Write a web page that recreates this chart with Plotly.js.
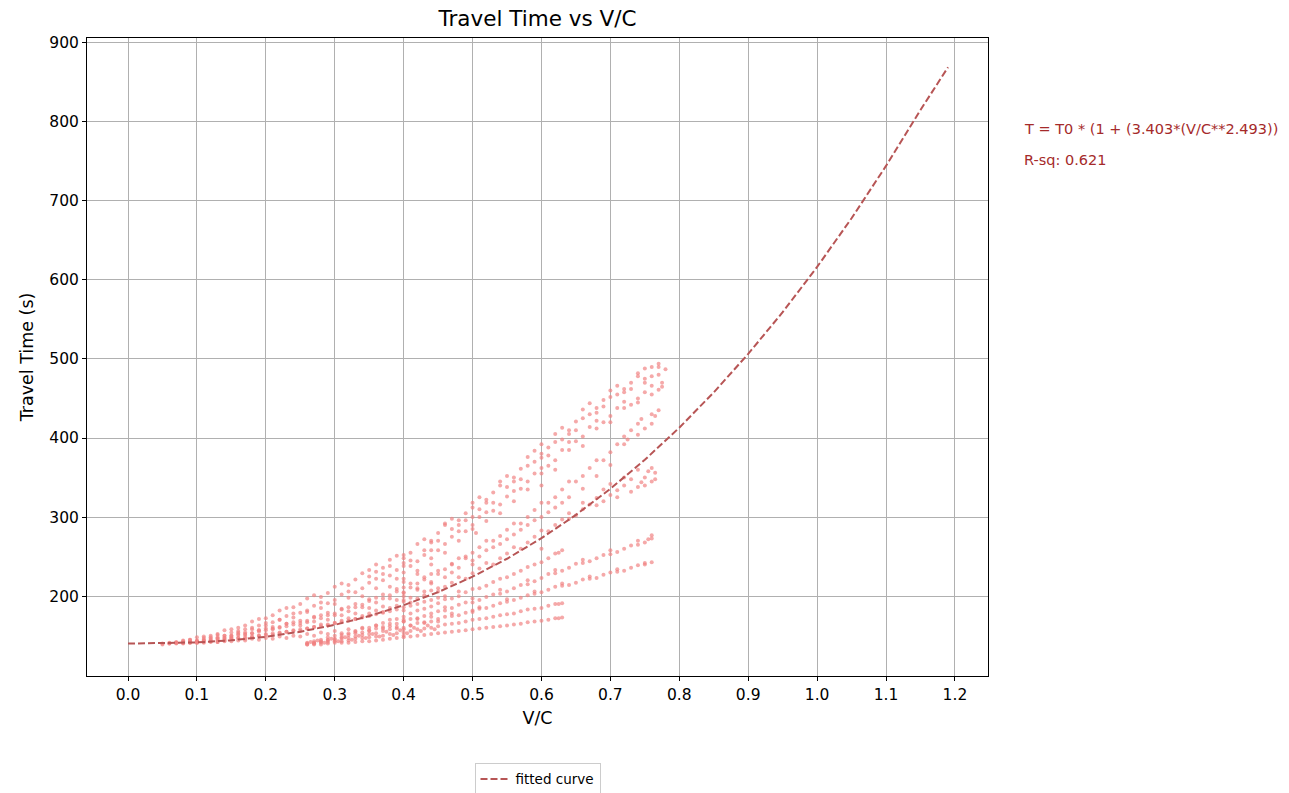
<!DOCTYPE html>
<html>
<head>
<meta charset="utf-8">
<script src="https://cdn.plot.ly/plotly-3.0.1.min.js"></script>
<style>html,body{margin:0;padding:0;background:#fff;}#chart{width:1289px;height:793px;}</style>
</head>
<body>
<div id="chart"></div>
<script>
// ---- observed points (V/C, travel time s), grouped by visible strands ----
const aVC = [0.05,0.07,0.09,0.11,0.13,0.15,0.17,0.19,0.21,0.23,0.25,0.27,0.29,0.31,0.33,0.35,0.37,0.39,0.41,0.43,0.45,0.47,0.49,0.51,0.53,0.55,0.57,0.59,0.61,0.63,0.65,0.67,0.69,0.71,0.73,0.75,0.76,0.77,0.78];
const aTT = [140,142,145,149,152,158,163,171,176,185,190,201,204,216,221,233,236,251,255,272,280,298,305,325,331,352,361,384,388,413,421,444,448,466,470,488,478,494,487];
const abVC = [0.06,0.08,0.10,0.12,0.14,0.16,0.18,0.20,0.22,0.24,0.26,0.28,0.30,0.32,0.34,0.36,0.38,0.40,0.42,0.44,0.46,0.48,0.50,0.52,0.54,0.56,0.58,0.60,0.62,0.64,0.66,0.68,0.70,0.72,0.74,0.76,0.775];
const abTT = [141,144,148,150,157,160,168,172,182,186,197,199,212,214,229,231,246,248,266,270,290,296,318,322,345,350,376,380,405,410,436,438,460,462,482,490,470];

const a2VC = [0.06,0.08,0.10,0.12,0.14,0.16,0.18,0.20,0.22,0.24,0.26,0.28,0.30,0.32,0.34,0.36,0.38,0.40,0.42,0.44,0.46,0.48,0.50,0.52,0.54,0.56,0.58,0.60,0.62,0.64,0.66,0.68,0.70,0.72,0.74,0.76,0.77];
const a2TT = [140,143,144,148,150,156,158,166,170,178,182,192,195,206,210,222,226,238,244,258,266,282,290,306,316,333,345,362,372,395,402,422,428,446,450,466,461];
const a2bVC = [0.07,0.09,0.11,0.13,0.15,0.17,0.19,0.21,0.23,0.25,0.27,0.29,0.31,0.33,0.35,0.37,0.39,0.41,0.43,0.45,0.47,0.49,0.51,0.53,0.55,0.57,0.59,0.61,0.63,0.65,0.67,0.69,0.71,0.73,0.75];
const a2bTT = [141,145,147,151,154,158,163,167,175,179,188,191,202,205,217,220,233,238,252,258,275,282,300,308,326,336,355,365,385,396,414,420,438,442,458];

const a3VC = [0.44,0.46,0.48,0.50,0.52,0.54,0.56,0.58,0.60,0.62,0.64,0.66,0.68,0.70,0.72,0.74,0.75,0.77];
const a3TT = [268,292,290,312,318,340,345,365,375,395,405,425,432,452,458,478,470,480];

const u1VC = [0.35,0.36,0.37,0.38,0.39,0.41,0.42,0.43,0.44,0.45,0.46,0.47,0.48,0.49,0.50,0.505,0.51,0.52,0.53,0.54,0.55,0.56,0.57,0.58,0.59,0.60,0.61,0.62,0.63,0.64,0.65,0.66,0.67,0.68,0.69,0.70,0.71,0.72,0.73,0.74,0.75,0.76,0.77,0.775];
const u1TT = [225,240,228,238,222,245,232,258,248,270,255,285,270,296,300,280,310,295,318,305,338,320,348,335,370,355,378,360,398,385,410,390,430,412,440,420,455,438,462,445,475,455,490,465];

const bVC = [0.08,0.10,0.12,0.14,0.16,0.18,0.20,0.22,0.24,0.26,0.28,0.30,0.32,0.34,0.36,0.38,0.40,0.42,0.44,0.46,0.48,0.50,0.52,0.54,0.56,0.58,0.60,0.62,0.64,0.66,0.68,0.70,0.72,0.73,0.74,0.75,0.76,0.77];
const bTT = [141,143,146,147,152,153,159,161,167,169,176,178,186,189,198,201,211,216,228,234,248,255,270,276,292,300,318,325,345,352,372,382,402,410,418,412,430,435];
const bbVC = [0.09,0.11,0.13,0.15,0.17,0.19,0.21,0.23,0.25,0.27,0.29,0.31,0.33,0.35,0.37,0.39,0.41,0.43,0.45,0.47,0.49,0.51,0.53,0.55,0.57,0.59,0.61,0.63,0.65,0.67,0.69,0.71,0.725,0.745,0.765];
const bbTT = [142,144,146,150,151,157,159,165,166,173,176,183,186,194,197,206,211,221,228,240,248,262,270,284,292,309,318,335,345,362,372,392,398,424,428];

const u2VC = [0.40,0.42,0.44,0.46,0.47,0.48,0.50,0.51,0.52,0.53,0.54,0.55,0.56,0.57,0.58,0.59,0.60,0.61,0.62,0.63,0.64,0.66,0.68,0.70,0.72,0.74,0.76];
const u2TT = [200,208,216,224,230,236,245,250,258,262,266,272,278,284,290,296,300,306,312,318,325,336,352,366,392,404,418];

const cVC = [0.10,0.12,0.14,0.16,0.18,0.20,0.22,0.24,0.26,0.28,0.30,0.32,0.34,0.36,0.38,0.40,0.42,0.44,0.46,0.48,0.50,0.52,0.54,0.56,0.58,0.60,0.62,0.64,0.66,0.68,0.70,0.72,0.74,0.75,0.76,0.765];
const cTT = [141,143,144,147,148,152,153,157,159,164,166,172,175,182,185,193,197,207,212,224,229,242,248,262,268,283,290,305,310,324,328,340,338,350,345,356];
const cbVC = [0.11,0.13,0.15,0.17,0.19,0.21,0.23,0.25,0.27,0.29,0.31,0.33,0.35,0.37,0.39,0.41,0.43,0.45,0.47,0.49,0.51,0.53,0.55,0.57,0.59,0.61,0.63,0.65,0.67,0.69,0.71,0.73,0.745,0.755];
const cbTT = [142,142,146,146,150,151,155,156,161,163,169,171,178,180,188,192,201,206,217,222,235,240,254,260,275,282,297,302,316,320,334,332,344,358];
const c2VC = [0.64,0.66,0.68,0.69,0.70,0.71,0.72,0.73,0.74,0.75,0.76,0.765];
const c2TT = [298,318,315,335,342,325,350,348,360,340,362,348];

const dVC = [0.26,0.28,0.30,0.32,0.34,0.36,0.38,0.40,0.42,0.44,0.46,0.48,0.50,0.52,0.54,0.56,0.58,0.60,0.62,0.63];
const dTT = [141,145,150,153,159,163,170,174,182,187,196,200,209,213,222,228,237,243,254,258];
const dbVC = [0.27,0.29,0.31,0.33,0.35,0.37,0.39,0.41,0.43,0.45,0.47,0.49,0.51,0.53,0.55,0.57,0.59,0.61,0.625];
const dbTT = [143,148,151,156,160,166,171,178,184,191,197,205,210,218,224,232,240,248,255];

const eVC = [0.27,0.29,0.31,0.33,0.35,0.37,0.39,0.41,0.43,0.45,0.47,0.49,0.51,0.53,0.55,0.57,0.59,0.61,0.63,0.65,0.67,0.69,0.71,0.73,0.75,0.76];
const eTT = [140,145,148,153,156,161,165,171,175,181,185,192,195,202,206,214,219,228,232,241,244,252,256,264,268,277];
const ebVC = [0.28,0.30,0.32,0.34,0.36,0.38,0.40,0.42,0.44,0.46,0.48,0.50,0.52,0.54,0.56,0.58,0.60,0.62,0.64,0.66,0.68,0.70,0.72,0.74,0.755];
const ebTT = [143,146,151,154,159,162,168,172,178,182,189,192,199,203,210,215,223,229,236,242,248,253,260,265,272];
const e2VC = [0.46,0.50,0.54,0.58,0.62,0.66,0.70,0.74,0.76];
const e2TT = [186,197,208,220,233,246,258,270,273];

const fVC = [0.26,0.28,0.30,0.32,0.34,0.36,0.38,0.40,0.42,0.44,0.46,0.48,0.50,0.52,0.54,0.56,0.58,0.60,0.62,0.64,0.66,0.68,0.70,0.72,0.74,0.76];
const fTT = [140,142,145,147,151,153,158,160,166,168,174,176,182,185,191,195,201,205,212,214,221,223,230,232,239,243];
const fbVC = [0.27,0.29,0.31,0.33,0.35,0.37,0.39,0.41,0.43,0.45,0.47,0.49,0.51,0.53,0.55,0.57,0.59,0.61,0.63,0.65,0.67,0.69,0.71,0.73,0.75];
const fbTT = [141,144,146,149,152,156,159,163,167,171,175,179,184,188,193,198,203,208,213,217,222,227,231,236,240];
const f2VC = [0.47,0.51,0.55,0.59,0.63,0.67,0.71,0.75];
const f2TT = [178,186,196,206,216,225,234,242];

const gVC = [0.26,0.28,0.30,0.32,0.34,0.36,0.38,0.40,0.42,0.44,0.46,0.48,0.50,0.52,0.54,0.56,0.58,0.60,0.62,0.63];
const gTT = [139,141,143,144,147,149,152,154,158,160,164,166,170,172,176,178,183,185,190,191];
const gbVC = [0.27,0.29,0.31,0.33,0.35,0.37,0.39,0.41,0.43,0.45,0.47,0.49,0.51,0.53,0.55,0.57,0.59,0.61,0.625];
const gbTT = [140,142,143,146,148,150,153,156,159,162,165,168,171,174,177,181,184,188,190];

const hVC = [0.26,0.28,0.30,0.32,0.34,0.36,0.38,0.40,0.42,0.44,0.46,0.48,0.50,0.52,0.54,0.56,0.58,0.60,0.62,0.63];
const hTT = [139,139,141,141,143,144,146,148,150,152,154,156,158,160,162,164,167,169,172,173];
const hbVC = [0.27,0.29,0.31,0.33,0.35,0.37,0.39,0.41,0.43,0.45,0.47,0.49,0.51,0.53,0.55,0.57,0.59,0.61,0.625];
const hbTT = [139,140,141,142,143,145,147,149,151,153,155,157,159,161,163,165,168,170,172];

const m1VC = [0.265,0.275,0.285,0.295,0.305,0.315,0.325,0.335,0.345,0.355,0.365,0.375,0.385,0.395,0.405,0.415,0.425,0.435,0.445];
const m1TT = [142,144,141,146,143,148,145,150,147,152,149,155,151,157,153,160,156,163,158];

const l1VC = [0.05,0.07,0.09,0.11,0.13,0.15,0.17,0.19,0.21,0.23,0.25,0.27,0.29,0.31,0.33,0.35,0.37,0.39,0.41,0.43,0.45];
const l1TT = [139,140,141,141,142,143,144,145,146,147,149,150,152,153,155,157,159,161,163,166,168];
const l2VC = [0.06,0.08,0.10,0.12,0.14,0.16,0.18,0.20,0.22,0.24,0.26,0.28,0.30,0.32,0.34,0.36,0.38,0.40,0.42,0.44,0.46,0.48];
const l2TT = [140,141,142,143,145,147,149,151,154,156,159,162,166,169,173,177,181,186,190,195,200,206];
const l3VC = [0.07,0.09,0.11,0.13,0.15,0.17,0.19,0.21,0.23,0.25,0.27,0.29,0.31,0.33,0.35,0.37,0.39,0.41,0.43,0.45,0.47,0.49];
const l3TT = [141,143,145,148,150,154,157,161,165,169,174,179,184,190,196,202,209,216,224,232,241,250];
const l4VC = [0.08,0.10,0.12,0.14,0.16,0.18,0.20,0.22,0.24,0.26,0.28,0.30,0.32,0.34,0.36,0.38,0.40,0.42,0.44];
const l4TT = [140,141,142,143,144,146,147,149,150,152,154,156,158,160,163,165,168,171,174];
const l5VC = [0.09,0.11,0.13,0.15,0.17,0.19,0.21,0.23,0.25,0.27,0.29,0.31,0.33,0.35,0.37,0.39,0.41,0.43,0.45];
const l5TT = [141,143,144,146,148,150,153,155,158,161,164,167,171,175,179,183,188,193,198];
const l6VC = [0.10,0.12,0.14,0.16,0.18,0.20,0.22,0.24,0.26,0.28,0.30,0.32,0.34,0.36,0.38,0.40,0.42,0.44];
const l6TT = [143,145,147,151,153,157,160,164,167,172,176,181,186,192,197,204,210,218];
const l8VC = [0.13,0.15,0.17,0.19,0.21,0.23,0.25,0.27,0.29,0.31,0.33,0.35,0.37,0.39,0.41,0.43,0.45];
const l8TT = [146,148,152,155,158,162,163,168,170,176,178,185,187,195,198,206,210];
const l9VC = [0.14,0.16,0.18,0.20,0.22,0.24,0.26,0.28,0.30,0.32,0.34,0.36,0.38,0.40,0.42,0.44];
const l9TT = [150,154,160,163,170,173,180,185,190,198,200,210,212,222,228,240];

const colVC = [0.40,0.40,0.40,0.40,0.40,0.40,0.40,0.40,0.40,0.40,0.50,0.50,0.50,0.60,0.60,0.60];
const colTT = [150,158,170,182,195,205,218,230,242,252,180,240,285,260,340,392];

// ---- fitted curve as drawn (V/C, travel time s) ----
const fitVC = [0.00,0.05,0.10,0.15,0.20,0.25,0.30,0.35,0.40,0.45,0.50,0.55,0.60,0.65,0.70,0.75,0.80,0.85,0.90,0.95,1.00,1.05,1.10,1.15,1.19];
const fitTT = [140,140.3,141.5,144.2,148.6,155.0,163.7,174.8,188.5,205.1,224.6,247.3,273.3,302.8,335.8,372.5,413.1,457.7,506.4,559.2,616.4,678.0,744.2,815.0,869];

const xTicks = [0.0,0.1,0.2,0.3,0.4,0.5,0.6,0.7,0.8,0.9,1.0,1.1,1.2];
const yTicks = [200,300,400,500,600,700,800,900];
const equationText = "T = T0 * (1 + (3.403*(V/C**2.493))";
const rsqText = "R-sq: 0.621";

const allVC = [].concat(aVC,abVC,a2VC,a2bVC,a3VC,u1VC,bVC,bbVC,u2VC,cVC,cbVC,c2VC,dVC,dbVC,eVC,ebVC,e2VC,fVC,fbVC,f2VC,gVC,gbVC,hVC,hbVC,m1VC,l1VC,l2VC,l3VC,l4VC,l5VC,l6VC,l8VC,l9VC,colVC);
const allTT = [].concat(aTT,abTT,a2TT,a2bTT,a3TT,u1TT,bTT,bbTT,u2TT,cTT,cbTT,c2TT,dTT,dbTT,eTT,ebTT,e2TT,fTT,fbTT,f2TT,gTT,gbTT,hTT,hbTT,m1TT,l1TT,l2TT,l3TT,l4TT,l5TT,l6TT,l8TT,l9TT,colTT);

const FONT = "DejaVu Sans, sans-serif";

const traces = [
  {
    x: allVC, y: allTT, type: "scatter", mode: "markers",
    marker: {color: "#f08080", size: 4, opacity: 0.68},
    showlegend: false, hoverinfo: "skip"
  },
  {
    x: fitVC, y: fitTT, type: "scatter", mode: "lines",
    name: "fitted curve",
    line: {color: "#b75555", width: 2, dash: "7px,3px"}
  }
];

const axisCommon = {
  showline: true, linecolor: "#000", linewidth: 1, mirror: true,
  ticks: "outside", ticklen: 4, tickcolor: "#000", tickwidth: 1,
  showgrid: true, gridcolor: "#b0b0b0", gridwidth: 1,
  zeroline: false,
  tickfont: {family: FONT, size: 15.5, color: "#000"}
};

const layout = {
  width: 1289, height: 793,
  paper_bgcolor: "#fff", plot_bgcolor: "#fff",
  margin: {l: 87, r: 301, t: 38, b: 117, autoexpand: false},
  font: {family: FONT, color: "#000"},
  title: {text: "Travel Time vs V/C", font: {family: FONT, size: 21.5, color: "#000"},
          x: 0.5, xref: "paper", xanchor: "center", y: 0.977, yref: "container", yanchor: "middle"},
  xaxis: Object.assign({}, axisCommon, {
    range: [-0.0595, 1.248], tickvals: xTicks, ticktext: xTicks.map(v => v.toFixed(1)),
    automargin: false,
    title: {text: "V/C", font: {family: FONT, size: 17.5, color: "#000"}, standoff: 9}
  }),
  yaxis: Object.assign({}, axisCommon, {
    range: [99, 906], tickvals: yTicks, ticktext: yTicks.map(String),
    automargin: false,
    title: {text: "Travel Time (s)", font: {family: FONT, size: 17.5, color: "#000"}, standoff: 11}
  }),
  showlegend: true,
  legend: {x: 0.5, xanchor: "center", y: -0.136, yanchor: "top", xref: "paper", yref: "paper",
           bordercolor: "#cccccc", borderwidth: 1, bgcolor: "#fff", itemwidth: 30,
           font: {family: FONT, size: 13.5, color: "#000"}},
  annotations: [
    {text: equationText, xref: "paper", yref: "paper", x: 1.0377, y: 0.857, xanchor: "left", yanchor: "middle",
     showarrow: false, font: {family: FONT, size: 14.5, color: "#a52a2a"}},
    {text: rsqText, xref: "paper", yref: "paper", x: 1.0377, y: 0.809, xanchor: "left", yanchor: "middle",
     showarrow: false, font: {family: FONT, size: 14.5, color: "#a52a2a"}}
  ]
};

Plotly.newPlot("chart", traces, layout, {displayModeBar: false, responsive: false});
</script>
</body>
</html>
